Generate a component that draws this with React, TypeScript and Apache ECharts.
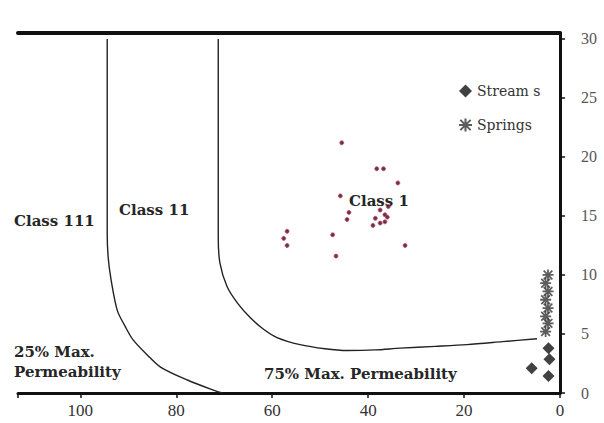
import React, { useEffect, useRef } from "react";
import * as echarts from "echarts";

const classBoundary3: number[][] = [
  [94.4, 30], [94.4, 13.5], [94.2, 11.5], [93.6, 9.6], [92.3, 7.0], [90.6, 5.6], [89, 4.5], [86, 3.2], [83.3, 2.2], [77.7, 1.1], [72.3, 0.25], [70.4, 0],
];
const classBoundary2: number[][] = [
  [71.25, 30], [71.25, 13.2], [70.9, 11.0], [69.4, 9.0], [67.2, 7.6], [64.6, 6.4], [61.8, 5.4], [59, 4.7], [54.2, 4.1], [49, 3.75], [44.4, 3.6], [38.5, 3.65], [33.3, 3.8], [26, 3.95], [19.4, 4.1], [12, 4.35], [4.8, 4.6],
];
const samplePoints: number[][] = [
  [45.5, 21.2], [38.2, 19.0], [36.8, 19.0], [33.8, 17.8], [45.8, 16.7],
  [37.5, 15.5], [36.5, 15.1], [35.8, 15.8], [38.5, 14.8], [37.5, 14.4], [36.5, 14.5], [36, 14.9], [39, 14.2],
  [44.4, 14.7], [44.0, 15.3], [56.9, 13.7], [57.6, 13.1], [56.9, 12.5], [47.4, 13.4], [46.7, 11.6], [32.3, 12.5],
];
const streams: number[][] = [
  [2.4, 3.8], [2.2, 2.85], [5.9, 2.1], [2.4, 1.45],
];
const springs: number[][] = [
  [2.5, 10.0], [3.0, 9.3], [2.5, 8.6], [3.0, 7.9], [2.5, 7.2], [3.0, 6.5], [2.5, 5.9], [3.0, 5.2],
];
const xTicks: number[] = [0, 20, 40, 60, 80, 100];
const yTicks: number[] = [0, 5, 10, 15, 20, 25, 30];

const asterisk =
  "path://M0,4.2L10,4.2L10,5.8L0,5.8Z M4.2,0L5.8,0L5.8,10L4.2,10Z M1.6,0.5L9.5,8.4L8.4,9.5L0.5,1.6Z M8.4,0.5L9.5,1.6L1.6,9.5L0.5,8.4Z";

const serif = "'Liberation Serif', 'DejaVu Serif', serif";
const wideSerif = "'DejaVu Serif', 'Liberation Serif', serif";

export default function App() {
  const ref = useRef<HTMLDivElement>(null);
  useEffect(() => {
    if (!ref.current) return;
    const chart = echarts.init(ref.current, undefined, { renderer: "svg" });
    const textStyle = (txt: string) => ({
      text: txt,
      fontFamily: wideSerif,
      fontWeight: "bold",
      fontSize: 15,
      fill: "#262626",
    });
    chart.setOption({
      animation: false,
      backgroundColor: "#ffffff",
      grid: { left: 18, right: 44, top: 33, bottom: 30 },
      legend: {
        orient: "vertical",
        left: 454,
        top: 79,
        itemGap: 20,
        itemWidth: 13,
        itemHeight: 13,
        data: [
          { name: "Stream s", icon: "diamond" },
          { name: "Springs", icon: asterisk },
        ],
        textStyle: { fontFamily: wideSerif, fontSize: 14, color: "#333" },
      },
      xAxis: [
        {
          type: "value",
          inverse: true,
          min: 0,
          max: 113,
          interval: 20,
          splitLine: { show: false },
          axisLine: { show: true, onZero: false, lineStyle: { color: "#111", width: 3 } },
          axisTick: { show: true, length: 5, lineStyle: { color: "#111", width: 1.5 } },
          axisLabel: {
            fontFamily: serif,
            fontSize: 17,
            color: "#333",
            margin: 9,
            formatter: (v: number) => (xTicks.includes(v) ? String(v) : ""),
          },
        },
        {
          type: "value",
          position: "top",
          inverse: true,
          min: 0,
          max: 113,
          splitLine: { show: false },
          axisLine: { show: true, onZero: false, lineStyle: { color: "#111", width: 4 } },
          axisTick: { show: false },
          axisLabel: { show: false },
        },
      ],
      yAxis: {
        type: "value",
        position: "right",
        min: 0,
        max: 30.5,
        interval: 5,
        splitLine: { show: false },
        axisLine: { show: true, onZero: false, lineStyle: { color: "#111", width: 3 } },
        axisTick: { show: true, length: 5, lineStyle: { color: "#111", width: 1.5 } },
        axisLabel: {
          fontFamily: serif,
          fontSize: 16,
          color: "#555",
          margin: 21,
          showMaxLabel: false,
          formatter: (v: number) => (yTicks.includes(v) ? String(v) : ""),
        },
      },
      series: [
        {
          name: "boundary3",
          type: "line",
          data: classBoundary3,
          smooth: 0.3,
          showSymbol: false,
          lineStyle: { color: "#222", width: 1.4 },
          silent: true,
        },
        {
          name: "boundary2",
          type: "line",
          data: classBoundary2,
          smooth: 0.3,
          showSymbol: false,
          lineStyle: { color: "#222", width: 1.4 },
          silent: true,
        },
        {
          name: "samples",
          type: "scatter",
          data: samplePoints,
          symbol: "circle",
          symbolSize: 4,
          itemStyle: { color: "#3a0818", borderColor: "#c8476a", borderWidth: 1 },
        },
        {
          name: "Stream s",
          type: "scatter",
          data: streams,
          symbol: "diamond",
          symbolSize: 12,
          itemStyle: { color: "#111" },
        },
        {
          name: "Springs",
          type: "scatter",
          data: springs,
          symbol: asterisk,
          symbolSize: 11,
          itemStyle: { color: "#333" },
        },
      ],
      graphic: [
        { type: "text", left: 14, top: 213, style: textStyle("Class 111") },
        { type: "text", left: 119, top: 202, style: textStyle("Class 11") },
        { type: "text", left: 349, top: 193, z: 0, style: textStyle("Class 1") },
        { type: "text", left: 14, top: 344, style: textStyle("25% Max.") },
        { type: "text", left: 14, top: 364, style: textStyle("Permeability") },
        { type: "text", left: 264, top: 366, style: textStyle("75% Max. Permeability") },
      ],
    });
    return () => chart.dispose();
  }, []);
  return (
    <div
      ref={ref}
      style={{ position: "absolute", left: 0, top: 0, width: 604, height: 423 }}
    />
  );
}
